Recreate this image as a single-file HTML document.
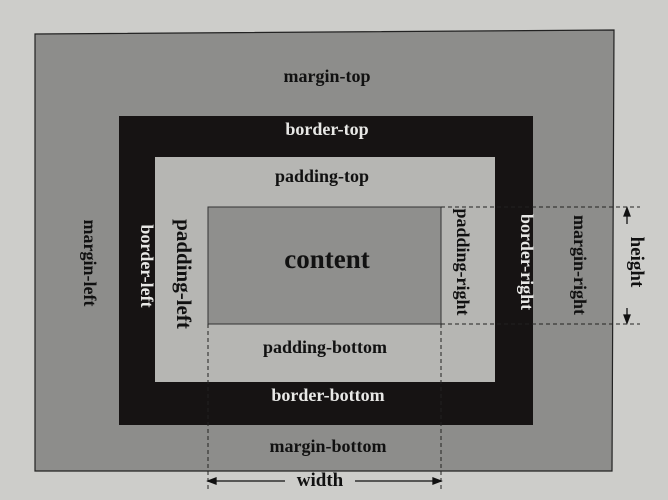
<!DOCTYPE html>
<html><head><meta charset="utf-8"><style>
html,body{margin:0;padding:0;background:#cfcfcc;}
svg{display:block}
text{font-family:"Liberation Serif",serif;font-weight:bold;}
</style></head><body>
<svg width="668" height="500" viewBox="0 0 668 500" xmlns="http://www.w3.org/2000/svg">
<rect x="0" y="0" width="668" height="500" fill="#cdcdca"/>
<polygon points="35,34 614,30 612,471 35,471" fill="#8d8d8b" stroke="#222" stroke-width="1.2"/>
<rect x="119" y="116" width="414" height="309" fill="#161313"/>
<rect x="155" y="157" width="340" height="225" fill="#b6b6b3"/>
<rect x="208" y="207" width="233" height="117" fill="#8f8f8d" stroke="#333" stroke-width="1"/>
<g stroke="#222" stroke-width="1" stroke-dasharray="4,3" fill="none">
<line x1="208" y1="324" x2="208" y2="492"/>
<line x1="441" y1="324" x2="441" y2="492"/>
<line x1="441" y1="207" x2="640" y2="207"/>
<line x1="441" y1="324" x2="640" y2="324"/>
</g>
<g stroke="#111" stroke-width="1.3" fill="#111">
<line x1="210" y1="481" x2="285" y2="481"/>
<line x1="355" y1="481" x2="439" y2="481"/>
<polygon points="208,481 216,478 216,484"/>
<polygon points="441,481 433,478 433,484"/>
<line x1="627" y1="210" x2="627" y2="224"/>
<line x1="627" y1="308" x2="627" y2="321"/>
<polygon points="627,208 624,216 630,216"/>
<polygon points="627,323 624,315 630,315"/>
</g>
<g text-anchor="middle" fill="#111" font-size="18">
<text x="327" y="82">margin-top</text>
<text x="322" y="182">padding-top</text>
<text x="325" y="353">padding-bottom</text>
<text x="328" y="452">margin-bottom</text>
<text x="320" y="486" font-size="19">width</text>
<text x="327" y="268" font-size="27">content</text>
<text x="327" y="135" fill="#e8e8e6">border-top</text>
<text x="328" y="401" fill="#e8e8e6">border-bottom</text>
<text transform="translate(84,263) rotate(90)">margin-left</text>
<text transform="translate(141,266) rotate(90)" fill="#e8e8e6">border-left</text>
<text transform="translate(177,274) rotate(90)" font-size="21">padding-left</text>
<text transform="translate(457,262) rotate(90)">padding-right</text>
<text transform="translate(521,262) rotate(90)" fill="#e8e8e6">border-right</text>
<text transform="translate(574,265) rotate(90)">margin-right</text>
<text transform="translate(631,262) rotate(90)" font-size="19">height</text>
</g>
</svg>
</body></html>
